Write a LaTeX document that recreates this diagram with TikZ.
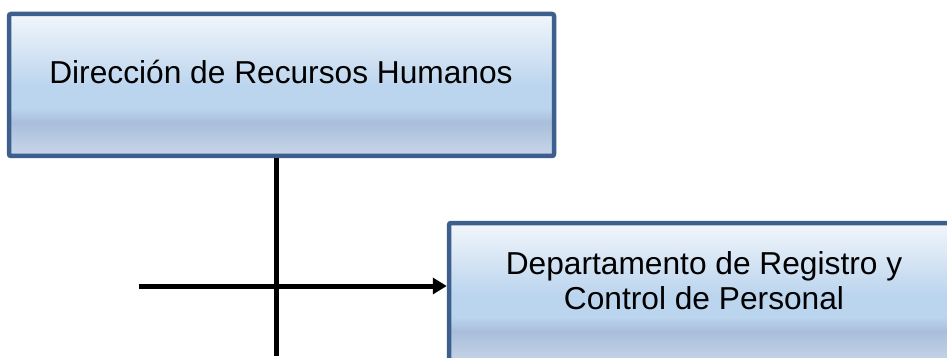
\documentclass[tikz,border=0pt]{standalone}
\usepackage{fontspec}
\setmainfont{Liberation Sans}
\usetikzlibrary{arrows.meta,shadows}

\definecolor{bordeazul}{HTML}{3D5F8E}
\definecolor{cajaA}{HTML}{F2F6FB}
\definecolor{cajaB}{HTML}{BCD5EE}
\definecolor{cajaC}{HTML}{A9BEDB}
\definecolor{cajaD}{HTML}{C9D6E9}
\pgfdeclareverticalshading{cajafondo}{100bp}{color(0bp)=(cajaD); color(25bp)=(cajaD); color(37bp)=(cajaC); color(42bp)=(cajaB); color(50bp)=(cajaB); color(75bp)=(cajaA); color(100bp)=(cajaA)}

\tikzset{
  caja/.style={draw=bordeazul, line width=4.5pt, rounded corners=2pt,
    shading=cajafondo, drop shadow={opacity=0.2, shadow xshift=1.5pt, shadow yshift=-1.5pt},
    inner sep=0pt},
  texto/.style={font=\fontsize{31.7}{35}\selectfont, inner sep=0pt, align=center},
  linea/.style={line width=5pt, black},
}

\begin{document}
\begin{tikzpicture}[x=1pt,y=-1pt]
\useasboundingbox (0,0) rectangle (947,358);

% cajas
\node[caja, minimum width=545pt, minimum height=142pt] (direccion) at (281.5,85) {};
\node[caja, minimum width=510pt, minimum height=142pt] (departamento) at (704,294) {};

\node[texto, anchor=base] (direcciontxt) at (281,84) {Dirección de Recursos Humanos};
\node[texto] (departamentotxt) at (704,281) {Departamento de Registro y\\Control de Personal};

% conectores
\coordinate (inicio) at (139,286);
\coordinate (fin) at (276,356);
\draw[linea] (fin |- direccion.south) -- (fin);
\draw[linea, -{Triangle[length=14pt,width=16pt]}] (inicio) -- (inicio -| departamento.west);
\end{tikzpicture}
\end{document}
